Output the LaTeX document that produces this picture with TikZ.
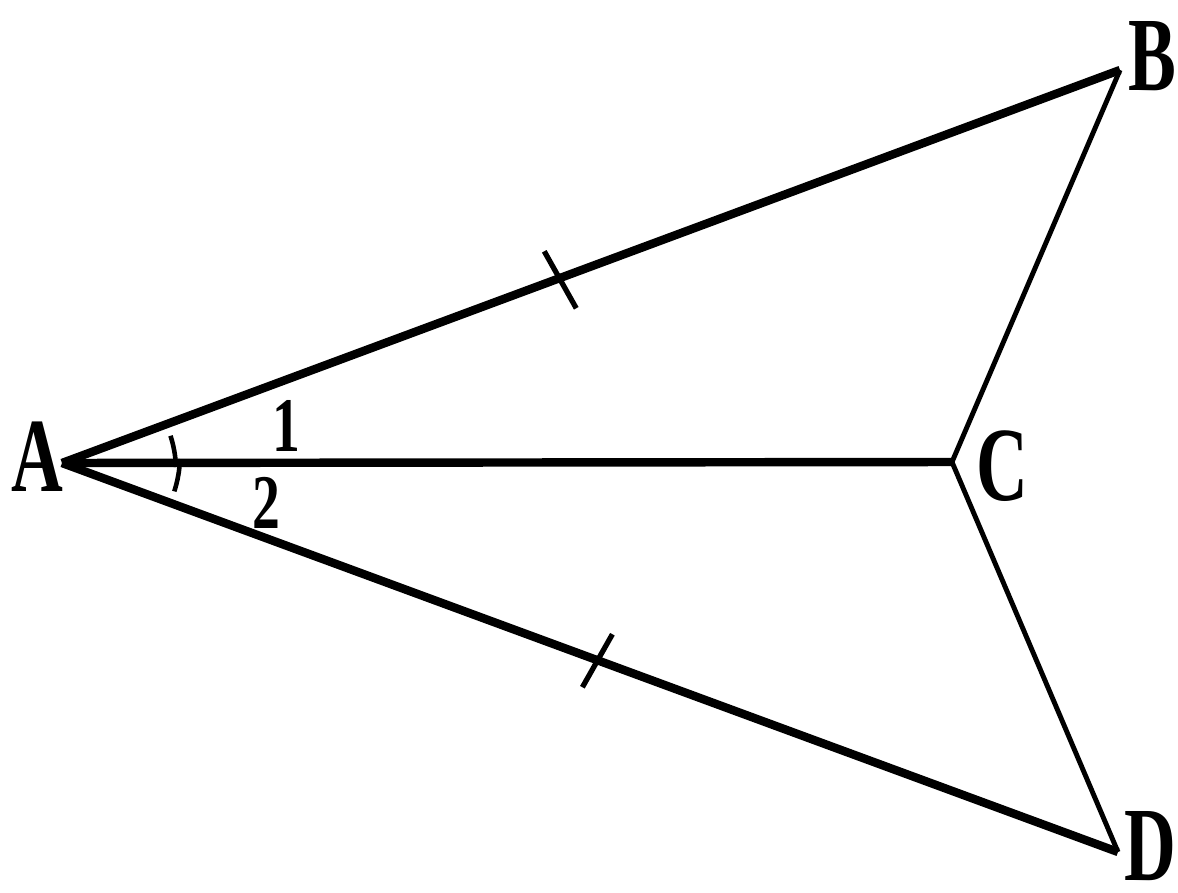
\documentclass[tikz,border=0pt]{standalone}
\usepackage{fontspec}
\setmainfont{Liberation Serif}
\usetikzlibrary{calc}
\begin{document}
\begin{tikzpicture}[x=0.02cm,y=-0.02cm,
  thickline/.style={line width=4.8pt,line join=miter},
  thinline/.style={line width=2.8pt},
  tickmark/.style={line width=3pt},
  arcmark/.style={line width=2.6pt},
  ptlabel/.style={font=\fontsize{60}{60}\selectfont\bfseries,inner sep=0pt,xscale=0.68},
  numlabel/.style={font=\fontsize{44}{44}\selectfont\bfseries,inner sep=0pt,xscale=0.72}]
\useasboundingbox (0,0) rectangle (1178,893);
\coordinate (A) at (62,463);
\coordinate (B) at (1120,70);
\coordinate (C) at (952,462);
\coordinate (D) at (1118,852);
\draw[thickline] (A) -- (B);
\draw[thickline] (A) -- (C);
\draw[thickline] (A) -- (D);
\draw[thinline] (B) -- (C) -- (D);
\coordinate (t1) at ($(A)!0.47!(B)$);
\coordinate (t2) at ($(A)!0.507!(D)$);
\draw[tickmark] ($(t1)+(-15,-27)$) -- ($(t1)+(17,30)$);
\draw[tickmark] ($(t2)+(15,-26)$) -- ($(t2)+(-15,27)$);
\draw[arcmark] ($(A)+(118,-4)$) arc[start angle=2,end angle=18,radius=118];
\draw[arcmark] ($(A)+(114,4)$) arc[start angle=-2,end angle=-18,radius=114];
\node[ptlabel] (lA) at (37,457) {A};
\node[ptlabel] (lB) at (1152,56) {B};
\node[ptlabel] (lC) at (1002,466) {C};
\node[ptlabel] (lD) at (1150,846) {D};
\node[numlabel] (n1) at (286,426) {1};
\node[numlabel] (n2) at (266,503) {2};
\end{tikzpicture}
\end{document}
